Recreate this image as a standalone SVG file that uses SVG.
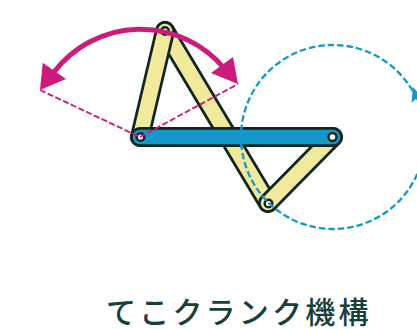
<svg xmlns="http://www.w3.org/2000/svg" width="417" height="329" viewBox="0 0 417 329">
<style>
.o{fill:none;stroke:#12261f;stroke-width:20;stroke-linecap:round}
.y{fill:none;stroke:#f1e99b;stroke-width:14.500;stroke-linecap:round}
.b{fill:none;stroke:#1498cc;stroke-width:14.500;stroke-linecap:round}
.h{fill:#fff;stroke:#12261f;stroke-width:2.400}
.p{fill:#cf1a7d}
.pd{fill:none;stroke:#cf1a7d;stroke-width:1.900;stroke-dasharray:6 2.5}
</style>
<rect width="417" height="329" fill="#fff"/>
<g id="connectors">
<g id="rocker-link">
<line class="o" x1="165" y1="31" x2="268" y2="203"/><line class="y" x1="165" y1="31" x2="268" y2="203"/>
<line class="o" x1="165" y1="31" x2="140" y2="137"/><line class="y" x1="165" y1="31" x2="140" y2="137"/>
<line class="o" x1="268" y1="203" x2="333" y2="137"/><line class="y" x1="268" y1="203" x2="333" y2="137"/>
</g>
<g id="ground-link">
<line class="o" x1="140" y1="137" x2="333" y2="137"/><line class="b" x1="140" y1="137" x2="333" y2="137"/>
</g>
</g>
<g id="pivots">
<circle class="h" cx="165" cy="31" r="3.800"/>
<circle class="h" cx="140.500" cy="137" r="3.800"/>
<circle class="h" cx="332.500" cy="137" r="4"/>
<circle class="h" cx="268.500" cy="203.500" r="3.800"/>
</g>
<g id="swing">
<path d="M54 72A109 109 0 0 1 224 68" fill="none" stroke="#cf1a7d" stroke-width="5"/>
<polygon class="p" points="42.700,62.700 66,79 40,90"/>
<polygon class="p" points="233,57 211,73 238,84"/>
<path class="pd" d="M40 90L140 137L238 84"/>
</g>
<g id="crank-circle">
<circle cx="333" cy="137" r="92" fill="none" stroke="#1498cc" stroke-width="2.300" stroke-dasharray="6.500 3"/>
<polygon points="412.700,86.700 411.700,102.700 420,95" fill="#1498cc"/>
</g>
<g id="title">
<text x="106" y="322.500" font-family="'Liberation Sans','Noto Sans CJK JP',sans-serif" font-size="30" font-weight="500" letter-spacing="3.200" fill="#17403a">てこクランク機構</text>
</g>
</svg>
